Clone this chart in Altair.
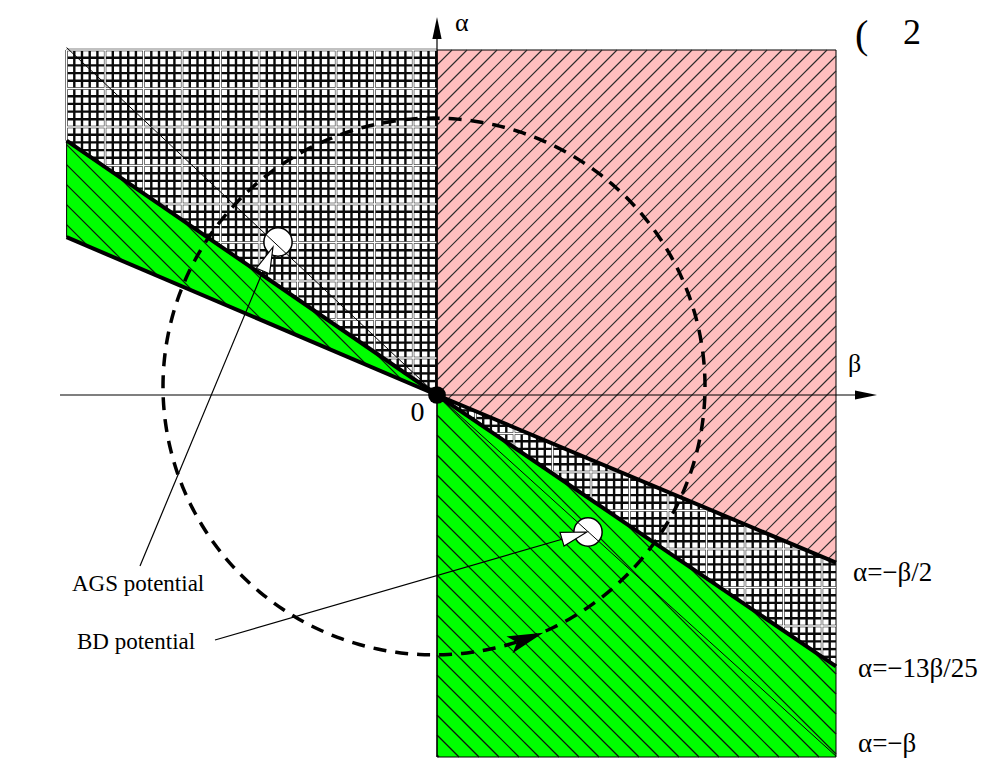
import altair as alt
import numpy as np
import pandas as pd

# ---------------- data (β, α units; the drawing is schematic) ----------------
BOX_LEFT, BOX_RIGHT = -0.926, 0.9975
BOX_TOP, BOX_BOTTOM = 0.8625, -0.905

# slopes of the drawn boundary lines, α = k·β
LEFT_UPPER, LEFT_LOWER, LEFT_THIN = -0.687, -0.426, -0.938
RIGHT_HALF, RIGHT_1325, RIGHT_UNIT = -0.42, -0.68, -0.905

region_names = ["cross_left", "green_left", "pink", "cross_right", "green_right"]
region_fill = ["#ffffff", "#00ff00", "#ffbfbf", "#ffffff", "#00ff00"]
region_b0 = [BOX_LEFT, BOX_LEFT, 0.0, 0.0, 0.0]
region_b1 = [0.0, 0.0, BOX_RIGHT, BOX_RIGHT, BOX_RIGHT]
region_lo0 = [LEFT_UPPER * BOX_LEFT, LEFT_LOWER * BOX_LEFT, 0.0, 0.0, BOX_BOTTOM]
region_lo1 = [0.0, 0.0, RIGHT_HALF * BOX_RIGHT, RIGHT_1325 * BOX_RIGHT, BOX_BOTTOM]
region_hi0 = [BOX_TOP, LEFT_UPPER * BOX_LEFT, BOX_TOP, 0.0, 0.0]
region_hi1 = [BOX_TOP, 0.0, BOX_TOP, RIGHT_HALF * BOX_RIGHT, RIGHT_1325 * BOX_RIGHT]

# dashed orbit
ORBIT_CENTER = (-0.0075, 0.02125)
ORBIT_RADII = (0.6775, 0.671)
ORBIT_ARROW_AT = (0.22, -0.60)

# potentials (markers) and pointer lines
pot_names = ["AGS potential", "BD potential"]
pot_beta = [-0.3975, 0.3775]
pot_alpha = [0.3825, -0.3425]
ptr_start_beta = [-0.7425, -0.555]
ptr_start_alpha = [-0.4275, -0.6125]
ptr_tip_beta = [-0.41, 0.375]
ptr_tip_alpha = [0.37, -0.3425]

# labels
label_text = ["0", "α", "β", "AGS potential", "BD potential",
              "α=−β/2", "α=−13β/25", "α=−β", "(", "2"]
label_beta = [-0.066, 0.045, 1.0275, -0.9125, -0.90,
              1.04, 1.0525, 1.0525, 1.045, 1.165]
label_alpha = [-0.066, 0.91, 0.0575, -0.49, -0.635,
               -0.465, -0.705, -0.8925, 0.8675, 0.8775]
label_size = [28, 26, 26, 23, 23, 27, 27, 27, 40, 36]

PX = 400.0  # pixels per unit
W, H = 972, 750
X0_PX, Y0_PX = 429.0, 387.0  # origin inside the plot area
xs = alt.Scale(domain=[-X0_PX / PX, (W - X0_PX) / PX], nice=False, zero=False)
ys = alt.Scale(domain=[-(H - Y0_PX) / PX, Y0_PX / PX], nice=False, zero=False)


def X(f="x"):
    return alt.X(f"{f}:Q", scale=xs, axis=None)


def Y(f="y"):
    return alt.Y(f"{f}:Q", scale=ys, axis=None, stack=None)


# ---------------- geometry helpers ----------------
def hatch(poly, direction, spacing, anchor):
    d = np.array(direction, float)
    d /= np.linalg.norm(d)
    n = np.array([-d[1], d[0]])
    P = np.array(poly, float)
    proj = P @ n
    a0 = float(np.dot(anchor, n))
    k0 = int(np.ceil((proj.min() - a0) / spacing))
    k1 = int(np.floor((proj.max() - a0) / spacing))
    segs = []
    for k in range(k0, k1 + 1):
        c = a0 + k * spacing
        pts = []
        for i in range(len(P)):
            a, b = P[i], P[(i + 1) % len(P)]
            fa, fb = a @ n - c, b @ n - c
            if fa == fb:
                continue
            if fa * fb <= 0:
                t = fa / (fa - fb)
                pts.append(a + t * (b - a))
        if len(pts) >= 2:
            pts.sort(key=lambda p: p @ d)
            p, q = pts[0], pts[-1]
            if np.linalg.norm(q - p) > 1e-6:
                segs.append((p[0], p[1], q[0], q[1]))
    return segs


polys = {}
area_rows = []
for i, nm in enumerate(region_names):
    polys[nm] = [(region_b0[i], region_lo0[i]), (region_b1[i], region_lo1[i]),
                 (region_b1[i], region_hi1[i]), (region_b0[i], region_hi0[i])]
    area_rows.append(dict(region=nm, fill=region_fill[i], x=region_b0[i], y=region_lo0[i], y2=region_hi0[i]))
    area_rows.append(dict(region=nm, fill=region_fill[i], x=region_b1[i], y=region_lo1[i], y2=region_hi1[i]))
area_df = pd.DataFrame(area_rows)

hatch_rows = []
SEAM = 38.5 / PX
GRID = SEAM / 5
for nm, anchor in [("cross_left", (BOX_LEFT, BOX_TOP)), ("cross_right", (0.0, 0.0))]:
    for dvec in [(0, 1), (1, 0)]:
        for s in hatch(polys[nm], dvec, GRID, anchor):
            hatch_rows.append(dict(x=s[0], y=s[1], x2=s[2], y2=s[3], c="#0a0a0a", w=2.4))
for nm in ["pink"]:
    for s in hatch(polys[nm], (1, 1), 15.0 / np.sqrt(2) / PX, (0.0, 0.0)):
        hatch_rows.append(dict(x=s[0], y=s[1], x2=s[2], y2=s[3], c="#2a2a2a", w=1.1))
for nm in ["green_left", "green_right"]:
    for s in hatch(polys[nm], (1, -1), 20.0 / np.sqrt(2) / PX, (0.0, 0.0)):
        hatch_rows.append(dict(x=s[0], y=s[1], x2=s[2], y2=s[3], c="#101010", w=1.2))
seam_rows = []
for nm, anchor in [("cross_left", (BOX_LEFT, BOX_TOP)), ("cross_right", (0.0, 0.0))]:
    for dvec in [(0, 1), (1, 0)]:
        for s in hatch(polys[nm], dvec, SEAM, anchor):
            seam_rows.append(dict(x=s[0], y=s[1], x2=s[2], y2=s[3], c="#ffffff", w=1.4))
hatch_df = pd.DataFrame(hatch_rows + seam_rows)

# boundary lines
line_rows = [
    dict(x=BOX_LEFT, y=LEFT_THIN * BOX_LEFT, x2=0, y2=0, w=1.0),
    dict(x=0, y=0, x2=BOX_RIGHT, y2=RIGHT_UNIT * BOX_RIGHT, w=1.0),
    dict(x=BOX_LEFT, y=LEFT_UPPER * BOX_LEFT, x2=0, y2=0, w=4.0),
    dict(x=BOX_LEFT, y=LEFT_LOWER * BOX_LEFT, x2=0, y2=0, w=4.0),
    dict(x=0, y=0, x2=BOX_RIGHT, y2=RIGHT_HALF * BOX_RIGHT, w=4.0),
    dict(x=0, y=0, x2=BOX_RIGHT, y2=RIGHT_1325 * BOX_RIGHT, w=4.0),
    # axes
    dict(x=-0.9425, y=0, x2=1.05, y2=0, w=1.2),
    dict(x=0, y=BOX_BOTTOM, x2=0, y2=0.91, w=1.2),
]
lines_df = pd.DataFrame(line_rows)

AXIS_ARROW = "M1,0L-1,-0.42L-1,0.42Z"
axis_arrow_df = pd.DataFrame(dict(x=[1.0725, 0.0], y=[0.0, 0.9175], angle=[0, 270]))

# orbit
t = np.linspace(0, 2 * np.pi, 361)
orbit_df = pd.DataFrame(dict(
    x=ORBIT_CENTER[0] + ORBIT_RADII[0] * np.cos(t),
    y=ORBIT_CENTER[1] + ORBIT_RADII[1] * np.sin(t),
    i=np.arange(len(t))))
u = np.arctan2((ORBIT_ARROW_AT[1] - ORBIT_CENTER[1]) / ORBIT_RADII[1],
               (ORBIT_ARROW_AT[0] - ORBIT_CENTER[0]) / ORBIT_RADII[0])
ax_ = ORBIT_CENTER[0] + ORBIT_RADII[0] * np.cos(u)
ay_ = ORBIT_CENTER[1] + ORBIT_RADII[1] * np.sin(u)
tx, ty = -ORBIT_RADII[0] * np.sin(u), ORBIT_RADII[1] * np.cos(u)
orbit_arrow_df = pd.DataFrame(dict(x=[ax_], y=[ay_], angle=[(-np.degrees(np.arctan2(ty, tx))) % 360]))
ORBIT_ARROW = "M1,0L-1,-0.5L-0.55,0L-1,0.5Z"

# pointers
HEAD = 26.0 / PX
ptr_rows, head_rows = [], []
for i in range(2):
    sx, sy = ptr_start_beta[i], ptr_start_alpha[i]
    tx_, ty_ = ptr_tip_beta[i], ptr_tip_alpha[i]
    dx, dy = tx_ - sx, ty_ - sy
    L = np.hypot(dx, dy)
    ux, uy = dx / L, dy / L
    ptr_rows.append(dict(x=sx, y=sy, x2=tx_ - HEAD * ux, y2=ty_ - HEAD * uy))
    head_rows.append(dict(x=tx_ - HEAD / 2 * ux, y=ty_ - HEAD / 2 * uy,
                          angle=(-np.degrees(np.arctan2(uy, ux))) % 360))
ptr_df = pd.DataFrame(ptr_rows)
head_df = pd.DataFrame(head_rows)
POINTER_HEAD = "M1,0L-1,-0.55L-1,0.55Z"

pot_df = pd.DataFrame(dict(name=pot_names, x=pot_beta, y=pot_alpha))
origin_df = pd.DataFrame(dict(x=[0.0], y=[0.0]))
label_df = pd.DataFrame(dict(text=label_text, x=label_beta, y=label_alpha, size=label_size))

# ---------------- layers ----------------
areas = alt.Chart(area_df).mark_area(orient="vertical", stroke="black", strokeWidth=1, opacity=1).encode(
    x=X(), y=Y(), y2="y2:Q", detail="region:N", fill=alt.Fill("fill:N", scale=None))

hatches = alt.Chart(hatch_df).mark_rule().encode(
    x=X(), y=Y(), x2="x2:Q", y2="y2:Q",
    color=alt.Color("c:N", scale=None), strokeWidth=alt.StrokeWidth("w:Q", scale=None))

pots = alt.Chart(pot_df).mark_point(shape="circle", filled=True, fill="white", stroke="black",
                                    strokeWidth=1.5, size=800, opacity=1).encode(x=X(), y=Y())

heads = alt.Chart(head_df).mark_point(shape=POINTER_HEAD, filled=True, fill="white", stroke="black",
                                      strokeWidth=1.2, size=26 * 26, opacity=1).encode(
    x=X(), y=Y(), angle=alt.Angle("angle:Q", scale=None))

ptrs = alt.Chart(ptr_df).mark_rule(color="black", strokeWidth=1.2).encode(
    x=X(), y=Y(), x2="x2:Q", y2="y2:Q")

lines = alt.Chart(lines_df).mark_rule(color="black").encode(
    x=X(), y=Y(), x2="x2:Q", y2="y2:Q", strokeWidth=alt.StrokeWidth("w:Q", scale=None))

axis_arrows = alt.Chart(axis_arrow_df).mark_point(shape=AXIS_ARROW, filled=True, color="black",
                                                  size=22 * 22, opacity=1).encode(
    x=X(), y=Y(), angle=alt.Angle("angle:Q", scale=None))

orbit = alt.Chart(orbit_df).mark_line(color="black", strokeWidth=3.5, strokeDash=[13, 9]).encode(
    x=X(), y=Y(), order="i:Q")

orbit_arrow = alt.Chart(orbit_arrow_df).mark_point(shape=ORBIT_ARROW, filled=True, color="black",
                                                   size=36 * 36, opacity=1).encode(
    x=X(), y=Y(), angle=alt.Angle("angle:Q", scale=None))

origin = alt.Chart(origin_df).mark_point(shape="circle", filled=True, color="black",
                                         size=314, opacity=1).encode(x=X(), y=Y())

labels = alt.Chart(label_df).mark_text(font="Liberation Serif", align="left", baseline="alphabetic",
                                       color="black").encode(
    x=X(), y=Y(), text="text:N", size=alt.Size("size:Q", scale=None))

chart = alt.layer(areas, hatches, pots, heads, ptrs, lines, axis_arrows, orbit, orbit_arrow,
                  origin, labels).properties(
    width=W, height=H, padding=0, autosize="none"
).configure_view(strokeWidth=0)

chart.save("out.html", embed_options={"renderer": "svg", "actions": False})
